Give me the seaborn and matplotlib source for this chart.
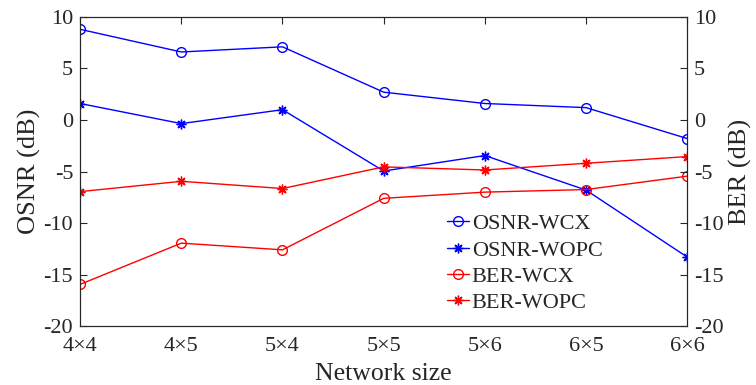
import matplotlib
matplotlib.use("Agg")
import matplotlib.pyplot as plt
import seaborn as sns
import numpy as np

sizes = ["4×4", "4×5", "5×4", "5×5", "5×6", "6×5", "6×6"]
osnr_wcx = [8.8, 6.6, 7.1, 2.7, 1.6, 1.2, -1.8]
osnr_wopc = [1.6, -0.35, 1.0, -4.95, -3.45, -6.8, -13.3]
ber_wcx = [-15.95, -11.95, -12.6, -7.6, -7.0, -6.75, -5.45]
ber_wopc = [-6.95, -5.95, -6.65, -4.55, -4.85, -4.2, -3.55]
y_ticks = [-20, -15, -10, -5, 0, 5, 10]

sns.set_style("white")
plt.rcParams["font.family"] = ["Liberation Serif", "DejaVu Serif"]
plt.rcParams["axes.unicode_minus"] = False

fig = plt.figure(figsize=(7.56, 3.85), dpi=100)
ax = fig.add_axes([0.106, 0.153, 0.803, 0.803])
idx = np.arange(len(sizes))

asterisk = (8, 2, 0)
series = [
    ("OSNR-WCX", osnr_wcx, "#0000ff", "o"),
    ("OSNR-WOPC", osnr_wopc, "#0000ff", asterisk),
    ("BER-WCX", ber_wcx, "#ff0000", "o"),
    ("BER-WOPC", ber_wopc, "#ff0000", asterisk),
]
for name, vals, col, mk in series:
    if mk == "o":
        kw = dict(markerfacecolor="none", markeredgecolor=col, markersize=7, markeredgewidth=1.0)
    else:
        kw = dict(markerfacecolor=col, markeredgecolor=col, markersize=7, markeredgewidth=1.0)
    sns.lineplot(x=idx, y=vals, ax=ax, color=col, marker=mk, linewidth=1.0,
                 label=name, **kw)

ax.set_xlim(0, 6)
ax.set_ylim(-20, 10)
ax.set_xticks(idx)
ax.set_xticklabels(sizes)
ax.set_yticks(y_ticks)
ax.set_xlabel("Network size", fontsize=18.5, labelpad=5)
ax.set_ylabel("OSNR (dB)", fontsize=19, labelpad=2)
ax.tick_params(axis="both", direction="in", length=5, width=0.8, labelsize=16,
               colors="#262626", labelcolor="#262626", top=True, right=False, pad=5)
ax.tick_params(axis="x", pad=8)
for s in ax.spines.values():
    s.set_color("#262626")
    s.set_linewidth(0.8)

ax2 = ax.twinx()
ax2.set_ylim(-20, 10)
ax2.set_yticks(y_ticks)
ax2.set_ylabel("BER (dB)", fontsize=19, labelpad=4)
ax2.tick_params(axis="y", direction="in", length=5, width=0.8, labelsize=16,
                colors="#262626", labelcolor="#262626", pad=5)
for s in ax2.spines.values():
    s.set_color("#262626")
    s.set_linewidth(0.8)

leg = ax.legend(loc="lower left", bbox_to_anchor=(0.59, 0.013), frameon=False,
                fontsize=16, handlelength=1.0, handletextpad=0.1, labelspacing=0.26,
                borderaxespad=0)

fig.savefig("out.png", dpi=100)
